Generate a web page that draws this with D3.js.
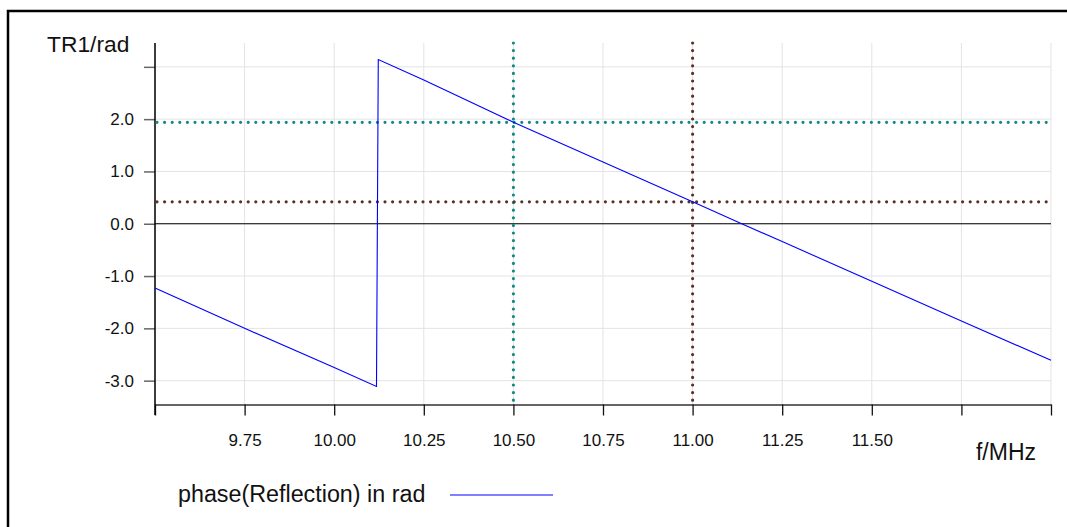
<!DOCTYPE html>
<html>
<head>
<meta charset="utf-8">
<script src="https://cdn.jsdelivr.net/npm/d3@7"></script>
<style>
  html, body { margin: 0; padding: 0; background: #fff; }
  svg { display: block; font-family: "Liberation Sans", Arial, sans-serif; }
</style>
</head>
<body>
<svg id="chart" width="1067" height="527"></svg>
<script>
// ---- data ----
const freqMHz = [9.5, 9.75, 10.0, 10.118, 10.123, 10.25, 10.5, 10.75, 11.0, 11.137, 11.25, 11.5, 11.75, 12.0];
const phaseRad = [-1.23, -2.00, -2.75, -3.11, 3.14, 2.75, 1.94, 1.18, 0.42, 0.0, -0.34, -1.10, -1.86, -2.61];
const xTicks = [9.5, 9.75, 10.0, 10.25, 10.5, 10.75, 11.0, 11.25, 11.5, 11.75, 12.0];
const xTickLabels = ["", "9.75", "10.00", "10.25", "10.50", "10.75", "11.00", "11.25", "11.50", "", ""];
const yTicks = [-3, -2, -1, 0, 1, 2, 3];
const yTickLabels = ["-3.0", "-2.0", "-1.0", "0.0", "1.0", "2.0", ""];
const markerFreqs = [10.5, 11.0];
const markerValues = [1.94, 0.42];
const markerColors = ["#138985", "#5a3224"];
const seriesName = "phase(Reflection) in rad";
const yTitle = "TR1/rad";
const xTitle = "f/MHz";

(function () {
// ---- layout ----
const svg = d3.select("#chart");
const pL = 155, pR = 1051, pT = 43, pB = 404.5;
const x = d3.scaleLinear().domain([9.5, 12.0]).range([pL, pR]);
const y = d3.scaleLinear().domain([-1.1 * Math.PI, 1.1 * Math.PI]).range([pB, pT]);

// outer frame
svg.append("rect").attr("x", 8).attr("y", 11).attr("width", 1100).attr("height", 600)
  .attr("fill", "none").attr("stroke", "#000").attr("stroke-width", 2.5);

// grid
const grid = svg.append("g");
grid.selectAll("line.vg").data(xTicks).join("line")
  .attr("x1", d => x(d)).attr("x2", d => x(d)).attr("y1", pT).attr("y2", pB)
  .attr("stroke", "#e3e3e3").attr("stroke-width", 1);
grid.selectAll("line.hg").data(yTicks).join("line")
  .attr("x1", pL).attr("x2", pR).attr("y1", d => y(d)).attr("y2", d => y(d))
  .attr("stroke", "#e3e3e3").attr("stroke-width", 1);

// zero line
svg.append("line").attr("x1", pL).attr("x2", pR).attr("y1", y(0)).attr("y2", y(0))
  .attr("stroke", "#000").attr("stroke-width", 1);

// x axis
const xAxis = d3.axisBottom(x).tickValues(xTicks)
  .tickFormat((d, i) => xTickLabels[i]).tickSize(11).tickSizeOuter(0).tickPadding(18);
const gx = svg.append("g").attr("transform", `translate(0,${pB})`).call(xAxis);
gx.select(".domain").attr("stroke", "#666").attr("stroke-width", 2);
gx.selectAll(".tick line").attr("stroke", "#111").attr("stroke-width", 1.3);
gx.selectAll(".tick text").attr("font-size", 17).attr("fill", "#111")
  .attr("font-family", "Liberation Sans, Arial, sans-serif");

// y axis
const yAxis = d3.axisLeft(y).tickValues(yTicks)
  .tickFormat((d, i) => yTickLabels[i]).tickSize(11).tickSizeOuter(0).tickPadding(10);
const gy = svg.append("g").attr("transform", `translate(${pL},0)`).call(yAxis);
gy.select(".domain").remove();
gy.selectAll(".tick line").attr("stroke", "#666").attr("stroke-width", 1.5);
gy.selectAll(".tick text").attr("font-size", 17).attr("fill", "#111")
  .attr("font-family", "Liberation Sans, Arial, sans-serif");
svg.append("line").attr("x1", pL).attr("x2", pL).attr("y1", pT).attr("y2", 415)
  .attr("stroke", "#000").attr("stroke-width", 1.5);

// markers (dotted)
markerFreqs.forEach((f, i) => {
  svg.append("line").attr("x1", x(f)).attr("x2", x(f)).attr("y1", pT).attr("y2", pB)
    .attr("stroke", markerColors[i]).attr("stroke-width", 3.2)
    .attr("stroke-linecap", "round").attr("stroke-dasharray", "0 7.6");
  svg.append("line").attr("x1", pL + 2).attr("x2", pR).attr("y1", y(markerValues[i])).attr("y2", y(markerValues[i]))
    .attr("stroke", markerColors[i]).attr("stroke-width", 3.2)
    .attr("stroke-linecap", "round").attr("stroke-dasharray", "0 7.6");
});

// series
const pts = freqMHz.map((f, i) => [f, phaseRad[i]]);
svg.append("path").datum(pts)
  .attr("d", d3.line().x(d => x(d[0])).y(d => y(d[1])))
  .attr("fill", "none").attr("stroke", "#0000ff").attr("stroke-width", 1.1);

// titles
svg.append("text").attr("x", 47).attr("y", 52).attr("font-size", 22.8).attr("fill", "#111").text(yTitle);
svg.append("text").attr("x", 1006).attr("y", 460).attr("text-anchor", "middle")
  .attr("font-size", 23).attr("fill", "#111").text(xTitle);

// legend
svg.append("text").attr("x", 178).attr("y", 502).attr("font-size", 23.3).attr("fill", "#111").text(seriesName);
svg.append("line").attr("x1", 450).attr("x2", 553).attr("y1", 495).attr("y2", 495)
  .attr("stroke", "#0000ff").attr("stroke-width", 1.1);
})();
</script>
</body>
</html>
